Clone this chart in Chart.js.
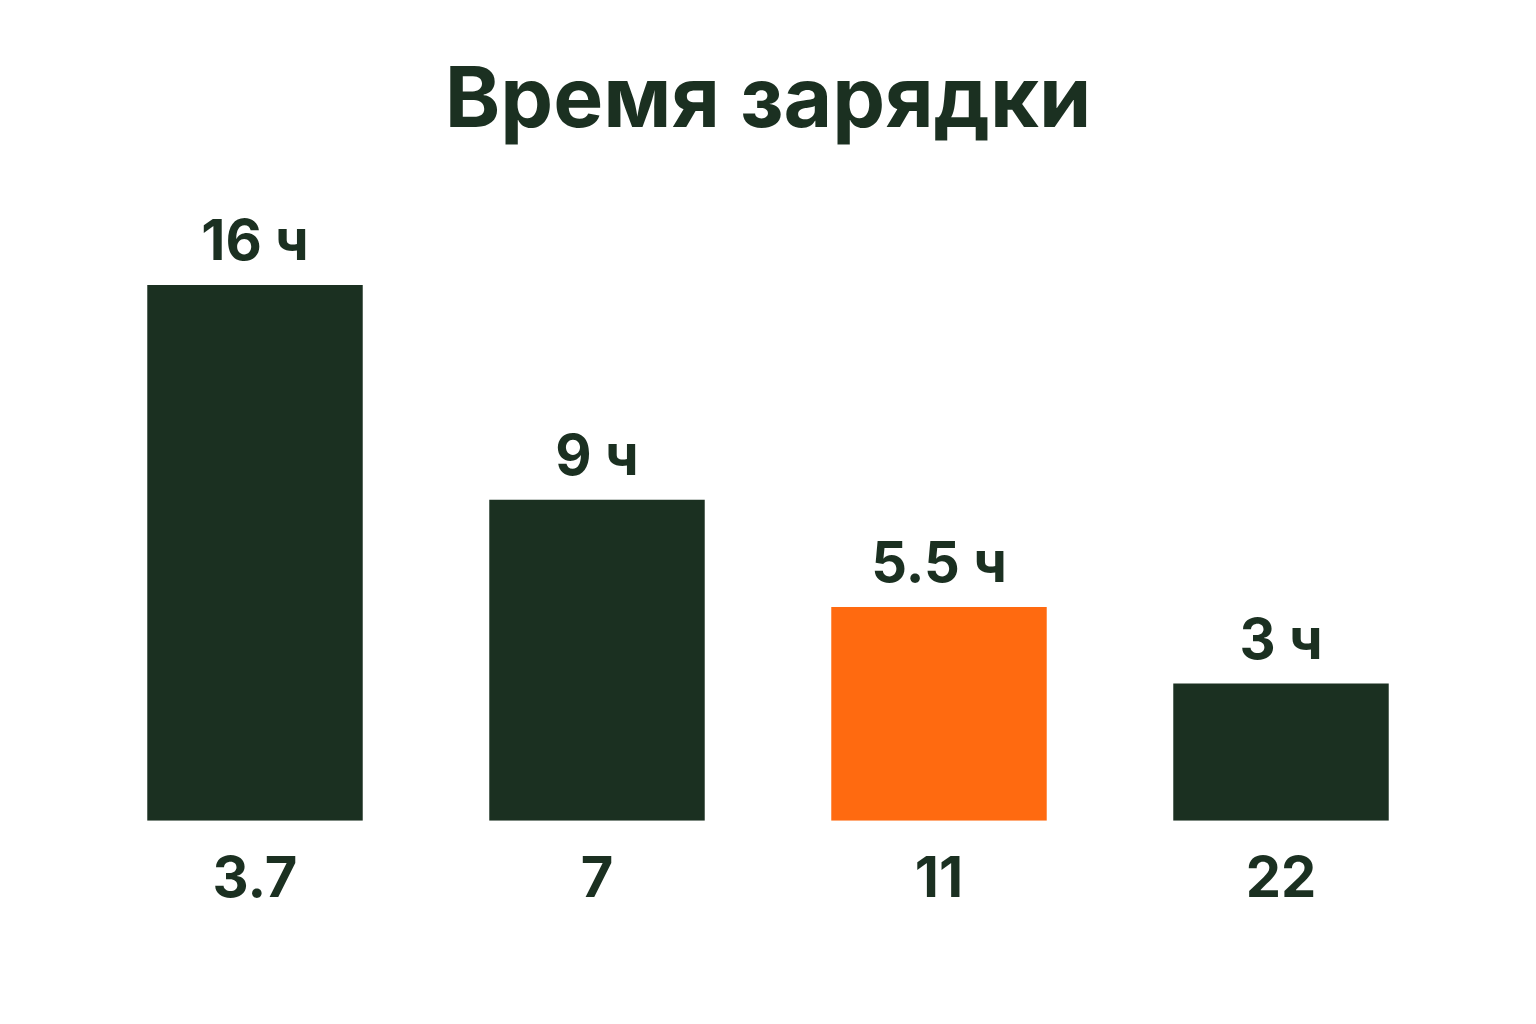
<!DOCTYPE html>
<html>
<head>
<meta charset="utf-8">
<title>Время зарядки</title>
<script src="https://cdn.jsdelivr.net/npm/chart.js@4.4.1/dist/chart.umd.min.js"></script>
<style>
  html, body { margin: 0; padding: 0; background: #ffffff; }
  #wrap { width: 1536px; height: 1024px; }
</style>
</head>
<body>
<div id="wrap"><canvas id="chargeChart" width="1536" height="1024"></canvas></div>
<script>
// charger power, kW (x axis labels)
var powerLabels = ['3.7', '7', '11', '22'];
// charging time, hours
var chargeHours = [16, 9, 5.5, 3];
var hourSuffix = ' ч';

var darkGreen = '#1b3021';
var orange = '#ff6a10';
var barColors = [darkGreen, darkGreen, orange, darkGreen];

// value labels above every bar
var valueLabels = {
    id: 'valueLabels',
    afterDatasetsDraw: function (chart) {
        var ctx = chart.ctx;
        var meta = chart.getDatasetMeta(0);
        ctx.save();
        ctx.fillStyle = darkGreen;
        ctx.font = '700 56px Inter';
        ctx.textAlign = 'center';
        ctx.textBaseline = 'alphabetic';
        meta.data.forEach(function (bar, i) {
            ctx.fillText(chargeHours[i] + hourSuffix, bar.x, bar.y - 25);
        });
        ctx.restore();
    }
};

new Chart(document.getElementById('chargeChart').getContext('2d'), {
    type: 'bar',
    data: {
        labels: powerLabels,
        datasets: [{
            data: chargeHours,
            backgroundColor: barColors,
            borderWidth: 0,
            base: -1.48,
            categoryPercentage: 1,
            barPercentage: 0.63
        }]
    },
    options: {
        responsive: false,
        animation: false,
        devicePixelRatio: 1,
        layout: { padding: { top: 51, left: 84, right: 84, bottom: 84 } },
        plugins: {
            legend: { display: false },
            tooltip: { enabled: false },
            title: {
                display: true,
                text: 'Время зарядки',
                color: darkGreen,
                font: { family: 'Inter', size: 84, weight: '700', lineHeight: 1.2 },
                padding: 0
            }
        },
        scales: {
            x: {
                grid: { display: false, drawTicks: false },
                border: { display: false },
                ticks: {
                    color: darkGreen,
                    padding: 26,
                    font: { family: 'Inter', size: 56, weight: '700', lineHeight: 1.2 }
                }
            },
            y: {
                display: false,
                min: -1.48,
                max: 20.35
            }
        }
    },
    plugins: [valueLabels]
});
</script>
</body>
</html>
